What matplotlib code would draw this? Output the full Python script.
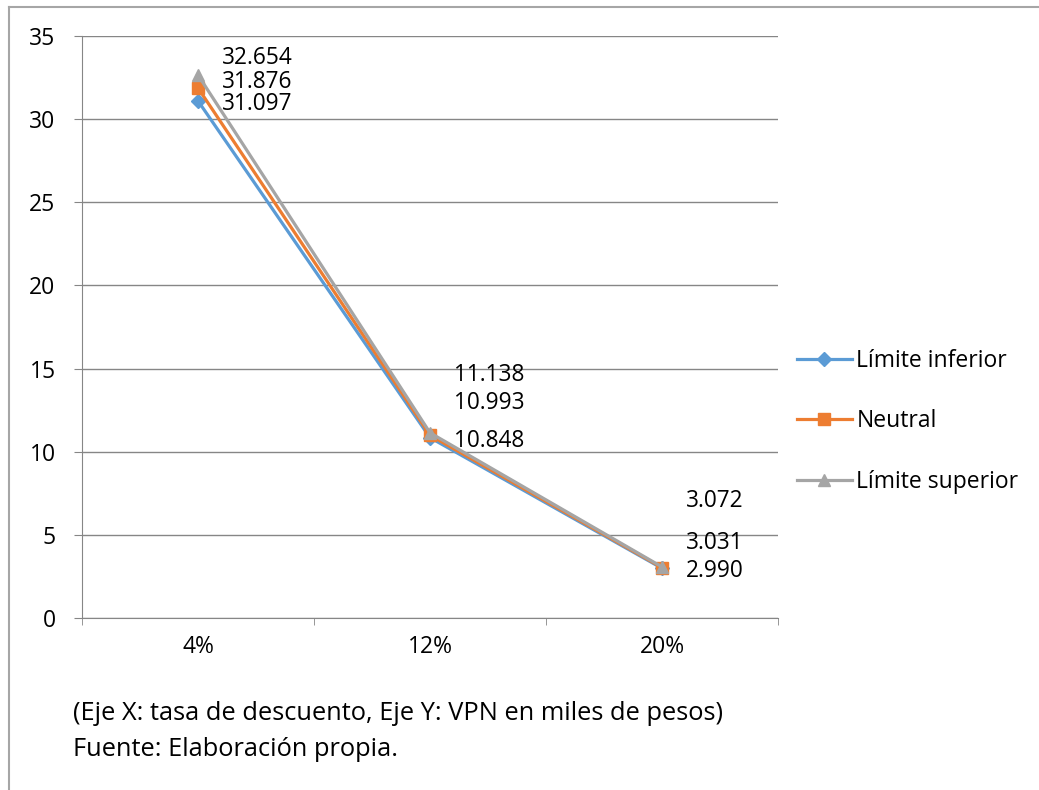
import matplotlib.pyplot as plt
from matplotlib.lines import Line2D

categories = ["4%", "12%", "20%"]
inferior = [31.097, 10.848, 2.990]
neutral = [31.876, 10.993, 3.031]
superior = [32.654, 11.138, 3.072]
series_names = ["Límite inferior", "Neutral", "Límite superior"]
colors = ["#5B9BD5", "#ED7D31", "#A5A5A5"]
markers = ["D", "s", "^"]
y_ticks = [0, 5, 10, 15, 20, 25, 30, 35]

W, H = 1039, 790

plt.rcParams["font.family"] = ["Open Sans", "DejaVu Sans"]

fig = plt.figure(figsize=(W / 100, H / 100), dpi=100)
ax = fig.add_axes([82 / W, 1 - 618 / H, 696 / W, 582 / H])

x = list(range(len(categories)))
all_series = [inferior, neutral, superior]
msizes = [7, 8, 9]
for i, vals in enumerate(all_series):
    ax.plot(x, vals, color=colors[i], linewidth=2.3, marker=markers[i],
            markersize=msizes[i], label=series_names[i], zorder=3 + i)

# data labels were moved by hand in the original, so offsets (pixels)
# are relative to the lower series point
label_dy = [
    [0, 0, 0],      # Límite inferior
    [22, 38, 28],   # Neutral
    [46, 66, 70],   # Límite superior
]
for i, vals in enumerate(all_series):
    for j, v in enumerate(vals):
        ax.annotate(f"{v:.3f}", (x[j], inferior[j]), xytext=(24, label_dy[i][j]),
                    textcoords="offset pixels", fontsize=16.3,
                    ha="left", va="center_baseline", color="#000000", zorder=10)

ax.set_xlim(-0.5, 2.5)
ax.set_ylim(0, 35)
ax.set_yticks(y_ticks)
ax.set_xticks(x)
ax.set_xticklabels(categories)
ax.set_xticks([-0.5, 0.5, 1.5, 2.5], minor=True)
ax.tick_params(axis="x", which="major", length=0, pad=12.5, labelsize=16.5)
ax.tick_params(axis="x", which="minor", length=5, color="#868686")
ax.tick_params(axis="y", length=6, pad=13, labelsize=16.5, color="#868686")
ax.grid(axis="y", color="#868686", linewidth=1)
ax.set_axisbelow(True)
for s in ["top", "right"]:
    ax.spines[s].set_visible(False)
ax.spines["bottom"].set_color("#868686")
ax.spines["left"].set_color("#868686")

ax.legend(loc="center left", bbox_to_anchor=(1.027, 0.338), frameon=False,
          fontsize=16.5, handlelength=2.4, labelspacing=1.6,
          handletextpad=0.2, borderaxespad=0, borderpad=0)

fig.text(73 / W, 1 - 711 / H,
         "(Eje X: tasa de descuento, Eje Y: VPN en miles de pesos)",
         fontsize=18.3, va="center_baseline", ha="left")
fig.text(73 / W, 1 - 746 / H, "Fuente: Elaboración propia.",
         fontsize=18.3, va="center_baseline", ha="left")

# outer frame of the pasted chart (only top and left edges are visible)
fig.add_artist(Line2D([9 / W, 1], [1 - 7 / H, 1 - 7 / H], color="#A6A6A6",
                      linewidth=1.5, transform=fig.transFigure))
fig.add_artist(Line2D([9 / W, 9 / W], [0, 1 - 7 / H], color="#A6A6A6",
                      linewidth=1.5, transform=fig.transFigure))

fig.savefig("out.png", dpi=100)
